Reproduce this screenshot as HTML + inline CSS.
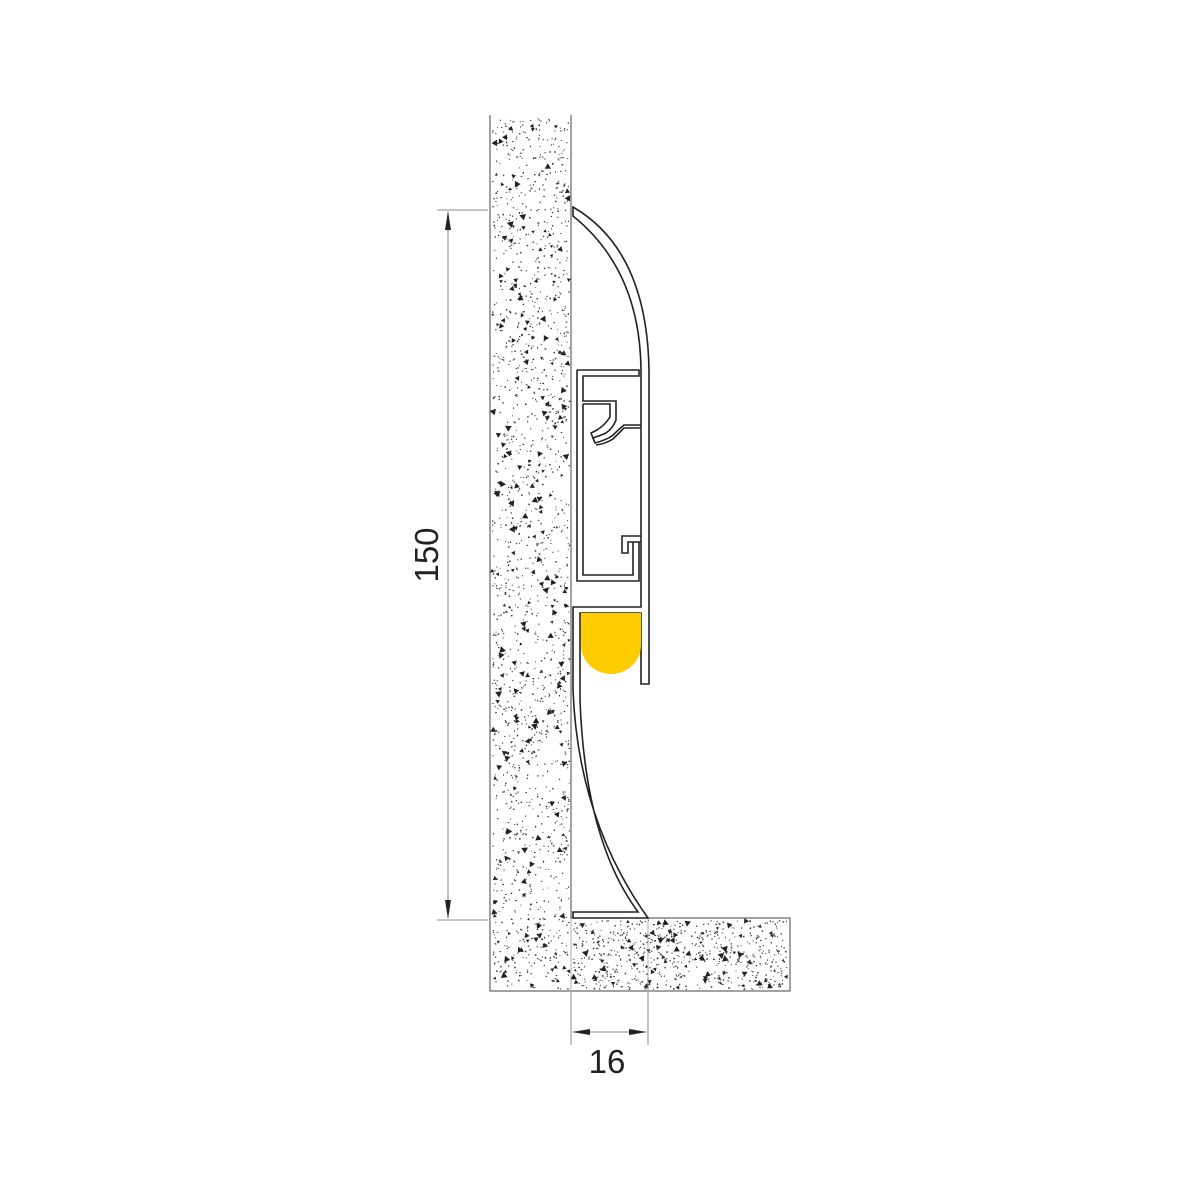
<!DOCTYPE html>
<html><head><meta charset="utf-8"><style>
html,body{margin:0;padding:0;background:#fff;}
svg{display:block;}
</style></head><body>
<svg id="s" width="1200" height="1200" viewBox="0 0 1200 1200" xmlns="http://www.w3.org/2000/svg">
<rect width="1200" height="1200" fill="#fff"/>
<g id="dots"></g>
<path d="M490,115 L490,991 L790,991 L790,918 L571,918 L571,115" fill="none" stroke="#444" stroke-width="1"/>
<line x1="571" y1="918" x2="571" y2="991" stroke="#999" stroke-width="0.8"/>
<line x1="648" y1="918" x2="648" y2="991" stroke="#999" stroke-width="0.8"/>
<g fill="none" stroke-linejoin="miter">
<g stroke="#222" stroke-width="1.6">
  <path d="M573,207 Q647,250 649,370 L649,684 L641,684 L641,613 L580,613 L580,700 Q585,840 638,912 L573,912 L573,918 L648,918 Q578,820 573,690 L573,607 L641,607 L641,370 Q640,270 573,216 Z"/>
  <path d="M577,370 L639,370 L639,376 L583,376 L583,401 L616,401 L616,420 Q612,430 604,434 L593,438 L595,443 Q606,440 612,436 Q618,430 624,425 L641,425"/>
  <path d="M641,428 L624,428 Q619,433 613,439 Q605,444 596,445"/>
  <path d="M583,404 L610,404 L610,417 Q605,425 597,430 L591,433 L595,443"/>
  <path d="M583,404 L583,575 L633,575 L633,542 L641,542"/>
  <path d="M641,536 L622,536 L622,553 L628,553 L628,542 L633,542"/>
  <path d="M577,370 L577,581 L639,581 L639,542"/>
</g>
</g>
<path d="M581,613 L641,613 L641,645 A30,29 0 0 1 581,645 Z" fill="#ffcc00"/>
<g stroke="#666" stroke-width="0.8" fill="none">
<line x1="437" y1="210" x2="488" y2="210"/>
<line x1="437" y1="920" x2="488" y2="920"/>
<line x1="448" y1="212" x2="448" y2="918"/>
<line x1="571" y1="992" x2="571" y2="1045"/>
<line x1="648" y1="992" x2="648" y2="1045"/>
<line x1="573" y1="1032" x2="646" y2="1032"/>
</g>
<g fill="#222">
<path d="M448,211 L445,230 L451,230 Z"/>
<path d="M448,919 L445,900 L451,900 Z"/>
<path d="M572,1032 L590,1029 L590,1035 Z"/>
<path d="M647,1032 L629,1029 L629,1035 Z"/>
</g>
<text x="607" y="1073" font-family="Liberation Sans, sans-serif" font-size="33" text-anchor="middle" fill="#222">16</text>
<text transform="translate(438,555) rotate(-90)" font-family="Liberation Sans, sans-serif" font-size="33" text-anchor="middle" fill="#222">150</text>
</svg>
<script>
(function(){
var seed=12345;function r(){seed=(seed*1103515245+12345)&0x7fffffff;return seed/0x7fffffff;}
var g=document.getElementById('dots'),h='';
function fill(x0,y0,w,hh,n){
 for(var i=0;i<n;i++){var x=x0+r()*w,y=y0+r()*hh,t=r();
  if(t<0.12){var s=1.5+r()*2.5,a=r()*6.28;
   h+='<polygon points="'+(x+s*Math.cos(a)).toFixed(1)+','+(y+s*Math.sin(a)).toFixed(1)+' '+(x+s*Math.cos(a+2.1)).toFixed(1)+','+(y+s*Math.sin(a+2.1)).toFixed(1)+' '+(x+s*Math.cos(a+4.2)).toFixed(1)+','+(y+s*Math.sin(a+4.2)).toFixed(1)+'" fill="#222"/>';}
  else{h+='<rect x="'+x.toFixed(1)+'" y="'+y.toFixed(1)+'" width="'+(0.8+r()*0.8).toFixed(1)+'" height="'+(0.8+r()*0.8).toFixed(1)+'" fill="#333"/>';}
 }}
fill(492,117,77,872,1800);
fill(573,920,215,69,700);
g.innerHTML=h;
})();
</script>
</body></html>
